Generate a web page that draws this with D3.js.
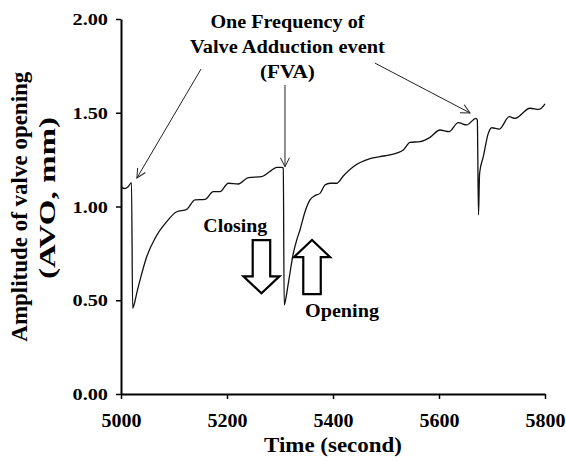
<!DOCTYPE html>
<html>
<head>
<meta charset="utf-8">
<script src="https://cdn.jsdelivr.net/npm/d3@7/dist/d3.min.js"></script>
<style>
  html, body { margin: 0; padding: 0; background: #ffffff; }
  #chart svg { display: block; font-family: 'Liberation Serif', 'Times New Roman', serif; font-weight: bold; }
  #chart .axis path, #chart .axis line { stroke: #000; }
  #chart .axis path { stroke-width: 2; }
  #chart .axis line { stroke-width: 1.5; }
  #chart .axis text { fill: #000; font-family: 'Liberation Serif', serif; font-weight: bold; }
</style>
</head>
<body>
<div id="chart"></div>
<script>
// valve opening trace
const timeSec = [
  5000, 5007.5, 5013, 5019.8, 5022, 5025, 5029.6, 5038, 5048.5, 5064.2,
  5086.2, 5105.1, 5124, 5139.6, 5158.5, 5174.2, 5186.8, 5202.5, 5221.3, 5240.2,
  5265.5, 5280, 5293.8, 5303.2, 5306.2, 5307.9, 5310.4, 5315.7, 5325.1, 5331.5,
  5337.7, 5347.2, 5356.6, 5366, 5375.5, 5384.9, 5394.3, 5406.9, 5419.4, 5438.3,
  5469.8, 5488.7, 5507.5, 5532.6, 5545.3, 5564.2, 5583, 5601.9, 5618.9, 5636.4,
  5652.3, 5669.8, 5672.3, 5674.5, 5676.6, 5683.6, 5693, 5699.4, 5713.8, 5732.6,
  5743.4, 5771.7, 5789.2, 5800
];
const avoMm = [
  1.106, 1.095, 1.104, 1.127, 0.457, 0.48, 0.537, 0.63, 0.732, 0.830,
  0.919, 0.972, 0.985, 1.035, 1.038, 1.079, 1.079, 1.124, 1.12, 1.154,
  1.159, 1.185, 1.209, 1.209, 1.205, 0.475, 0.501, 0.590, 0.750, 0.821,
  0.875, 0.972, 1.035, 1.058, 1.070, 1.115, 1.124, 1.124, 1.163, 1.212,
  1.255, 1.266, 1.275, 1.301, 1.342, 1.346, 1.369, 1.408, 1.399, 1.447,
  1.435, 1.470, 1.461, 0.955, 1.177, 1.266, 1.390, 1.420, 1.413, 1.479,
  1.470, 1.524, 1.518, 1.547
];

const xTicks = [5000, 5200, 5400, 5600, 5800];
const yTicks = [0, 0.5, 1, 1.5, 2];

// "FVA" note: text lines and the arrows to the three adduction peaks [t0, v0, t1, v1]
const noteLines = ['One Frequency of', 'Valve Adduction event', '(FVA)'];
const noteAnchor = { t: 5314, v: [1.95, 1.817, 1.684] };
const noteArrows = [
  [5151, 1.733, 5030, 1.152],
  [5309.4, 1.648, 5309.4, 1.212],
  [5479, 1.765, 5658.5, 1.499]
];

// closing / opening block arrows and their labels
const blockArrows = [
  { t: 5265, from: 0.821, to: 0.537 },
  { t: 5360.4, from: 0.533, to: 0.821 }
];
const moveLabels = [
  { text: 'Closing', t: 5215.7, v: 0.866 },
  { text: 'Opening', t: 5417, v: 0.412 }
];

const width = 566;
const height = 461;
const margin = { top: 19, right: 21, bottom: 67, left: 121 };
const plotW = width - margin.left - margin.right;
const plotH = height - margin.top - margin.bottom;

const x = d3.scaleLinear().domain([5000, 5800]).range([0, plotW]);
const y = d3.scaleLinear().domain([0, 2]).range([plotH, 0]);

const svg = d3.select('#chart').append('svg')
  .attr('width', width)
  .attr('height', height)
  .attr('viewBox', `0 0 ${width} ${height}`);

// open "V" arrow head for the note lines
svg.append('defs').append('marker')
  .attr('id', 'vhead')
  .attr('viewBox', '-10 -6 12 12')
  .attr('refX', 0)
  .attr('refY', 0)
  .attr('markerWidth', 12)
  .attr('markerHeight', 12)
  .attr('markerUnits', 'userSpaceOnUse')
  .attr('orient', 'auto')
  .append('path')
  .attr('d', 'M-9,-4.5 L0,0 L-9,4.5')
  .attr('fill', 'none')
  .attr('stroke', '#222')
  .attr('stroke-width', 1);

const g = svg.append('g').attr('transform', `translate(${margin.left},${margin.top})`);

// axes
const xAxis = g.append('g')
  .attr('class', 'axis x-axis')
  .attr('transform', `translate(0,${plotH})`)
  .call(d3.axisBottom(x).tickValues(xTicks).tickFormat(d3.format('d')).tickSize(5).tickSizeOuter(0).tickPadding(15));
xAxis.selectAll('text').attr('font-size', 18).attr('textLength', 40).attr('lengthAdjust', 'spacingAndGlyphs');

const yAxis = g.append('g')
  .attr('class', 'axis y-axis')
  .call(d3.axisLeft(y).tickValues(yTicks).tickFormat(d3.format('.2f')).tickSize(5).tickSizeOuter(0).tickPadding(8));
yAxis.selectAll('text').attr('font-size', 17.5).attr('textLength', 35.5).attr('lengthAdjust', 'spacingAndGlyphs');

// axis titles
g.append('text')
  .attr('x', plotW / 2)
  .attr('y', plotH + 57.5)
  .attr('text-anchor', 'middle')
  .attr('font-size', 20)
  .attr('textLength', 138)
  .attr('lengthAdjust', 'spacingAndGlyphs')
  .text('Time (second)');

const yTitle = [
  { text: 'Amplitude of valve opening', bx: 27, cy: 206.7, len: 270 },
  { text: '(AVO, mm)', bx: 55, cy: 198, len: 162 }
];
yTitle.forEach((d) => {
  svg.append('text')
    .attr('transform', `translate(${d.bx},${d.cy}) rotate(-90)`)
    .attr('text-anchor', 'middle')
    .attr('font-size', 23)
    .attr('textLength', d.len)
    .attr('lengthAdjust', 'spacingAndGlyphs')
    .text(d.text);
});

// trace
const line = d3.line()
  .x((d) => x(d[0]))
  .y((d) => y(d[1]))
  .curve(d3.curveMonotoneX);

g.append('path')
  .datum(timeSec.map((t, i) => [t, avoMm[i]]))
  .attr('d', line)
  .attr('fill', 'none')
  .attr('stroke', '#111')
  .attr('stroke-width', 1.3)
  .attr('stroke-linejoin', 'round');

// FVA note
const noteWidths = [154, 195, 55];
noteLines.forEach((s, i) => {
  g.append('text')
    .attr('x', x(noteAnchor.t))
    .attr('y', y(noteAnchor.v[i]))
    .attr('text-anchor', 'middle')
    .attr('font-size', 18)
    .attr('textLength', noteWidths[i])
    .attr('lengthAdjust', 'spacingAndGlyphs')
    .text(s);
});

g.selectAll('line.note-arrow')
  .data(noteArrows)
  .join('line')
  .attr('class', 'note-arrow')
  .attr('x1', (d) => x(d[0]))
  .attr('y1', (d) => y(d[1]))
  .attr('x2', (d) => x(d[2]))
  .attr('y2', (d) => y(d[3]))
  .attr('stroke', '#222')
  .attr('stroke-width', 1)
  .attr('marker-end', 'url(#vhead)');

// block arrows (white fill, black outline)
const shaftHalf = 8.75;
const headHalf = 18;
const headLen = 17;
g.selectAll('path.block-arrow')
  .data(blockArrows)
  .join('path')
  .attr('class', 'block-arrow')
  .attr('d', (d) => {
    const cx = x(d.t);
    const y0 = y(d.from);
    const y1 = y(d.to);
    const dir = y1 > y0 ? 1 : -1;
    const yb = y1 - dir * headLen;
    return `M${cx - shaftHalf},${y0} L${cx + shaftHalf},${y0} L${cx + shaftHalf},${yb} L${cx + headHalf},${yb}` +
      ` L${cx},${y1} L${cx - headHalf},${yb} L${cx - shaftHalf},${yb} Z`;
  })
  .attr('fill', '#fff')
  .attr('stroke', '#000')
  .attr('stroke-width', 2.2)
  .attr('stroke-linejoin', 'miter');

const labelWidths = { Closing: 64, Opening: 74 };
g.selectAll('text.move-label')
  .data(moveLabels)
  .join('text')
  .attr('class', 'move-label')
  .attr('x', (d) => x(d.t))
  .attr('y', (d) => y(d.v))
  .attr('text-anchor', 'middle')
  .attr('font-size', 19)
  .attr('textLength', (d) => labelWidths[d.text])
  .attr('lengthAdjust', 'spacingAndGlyphs')
  .text((d) => d.text);
</script>
</body>
</html>
